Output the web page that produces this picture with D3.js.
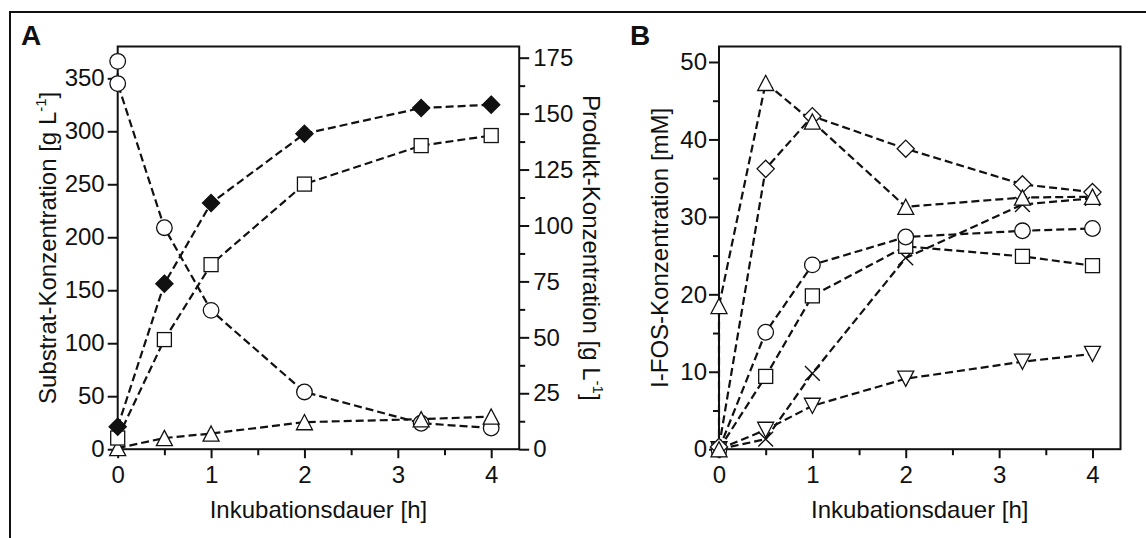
<!DOCTYPE html>
<html>
<head>
<meta charset="utf-8">
<script src="https://cdn.jsdelivr.net/npm/d3@7"></script>
<style>
  html, body { margin: 0; padding: 0; background: #fff; }
  svg { display: block; }
  text { font-family: "Liberation Sans", Arial, sans-serif; fill: #111; }
</style>
</head>
<body>
<svg id="fig" width="1146" height="538"></svg>
<script>
// ---------- Panel A: substrate and products over incubation time ----------
const substrateTimes  = [0, 0, 0.5, 1, 2, 3.25, 4];
const substrateValues = [366, 345, 209, 131, 54, 24.5, 20];          // circles, left axis [g/L]
const productTimes    = [0, 0.5, 1, 2, 3.25, 4];
const productDiamond  = [10, 74, 110, 141, 152.5, 154];              // filled diamonds, right axis [g/L]
const productSquare   = [5, 49, 82.5, 118.5, 135.7, 140.2];          // open squares, right axis [g/L]
const productTriangle = [0.5, 5, 7, 12.1, 13.4, 14.6];               // open triangles, right axis [g/L]

// ---------- Panel B: I-FOS concentration ----------
const fosTimes       = [0, 0.5, 1, 2, 3.25, 4];
const fosTriUpTimes  = [0, 0, 0.5, 1, 2, 3.25, 4];
const fosTriUp       = [0, 18.5, 47.3, 42.3, 31.3, 32.5, 32.6];
const fosDiamond     = [0.3, 36.2, 43, 38.8, 34.2, 33.2];
const fosCircle      = [0, 15.1, 23.8, 27.4, 28.2, 28.5];
const fosSquare      = [0, 9.4, 19.8, 26.2, 24.9, 23.7];
const fosCross       = [0, 1.3, 9.8, 24.7, 31.6, 32.4];
const fosTriDown     = [0, 2.5, 5.6, 9.1, 11.3, 12.3];

// ---------- Tick values ----------
const xTicks       = [0, 1, 2, 3, 4];
const xMinorTicks  = [0.5, 1.5, 2.5, 3.5];
const aLeftTicks   = [0, 50, 100, 150, 200, 250, 300, 350];
const aRightTicks  = [0, 25, 50, 75, 100, 125, 150, 175];
const aRightMinor  = [12.5, 37.5, 62.5, 87.5, 112.5, 137.5, 162.5];
const bTicks       = [0, 10, 20, 30, 40, 50];
const bMinor       = [5, 15, 25, 35, 45];

const svg = d3.select("#fig");
const FS = 24;

// outer frame
svg.append("rect")
  .attr("x", 10).attr("y", 12).attr("width", 1160).attr("height", 560)
  .attr("fill", "none").attr("stroke", "#111").attr("stroke-width", 2);

const plotTop = 46.5, plotBottom = 449.2, pw = 401.5;

function marker(g, type, cx, cy, filled) {
  const sw = 1.3, fill = filled ? "#111" : "#fff";
  let el;
  if (type === "circle") {
    el = g.append("circle").attr("cx", cx).attr("cy", cy).attr("r", 7.8);
  } else if (type === "square") {
    el = g.append("rect").attr("x", cx - 7).attr("y", cy - 7).attr("width", 14).attr("height", 14);
  } else if (type === "diamond") {
    const d = 8.6;
    el = g.append("path").attr("d", `M${cx},${cy - d}L${cx + d},${cy}L${cx},${cy + d}L${cx - d},${cy}Z`);
  } else if (type === "triUp") {
    const w = 8, h = 7.6;
    el = g.append("path").attr("d", `M${cx},${cy - h}L${cx + w},${cy + h}L${cx - w},${cy + h}Z`);
  } else if (type === "triDown") {
    const w = 8, h = 7.6;
    el = g.append("path").attr("d", `M${cx},${cy + h}L${cx + w},${cy - h}L${cx - w},${cy - h}Z`);
  } else if (type === "cross") {
    const h = 7.4;
    g.append("path").attr("d", `M${cx - h},${cy - h}L${cx + h},${cy + h}M${cx - h},${cy + h}L${cx + h},${cy - h}`)
      .attr("stroke", "#111").attr("stroke-width", 1.4).attr("fill", "none");
    return;
  }
  el.attr("fill", fill).attr("stroke", "#111").attr("stroke-width", sw);
}

function series(g, xs, ys, x, y, type, filled) {
  const pts = xs.map((t, i) => [x(t), y(ys[i])]);
  g.append("path")
    .attr("d", d3.line()(pts))
    .attr("fill", "none").attr("stroke", "#111")
    .attr("stroke-width", 2.2).attr("stroke-dasharray", "8,4");
  return () => pts.forEach(p => marker(g, type, p[0], p[1], filled));
}

function styleAxis(sel) {
  sel.select(".domain").remove();
  sel.selectAll("line").attr("stroke", "#111").attr("stroke-width", 2);
  sel.selectAll("text").attr("font-size", FS).attr("fill", "#111")
    .style("font-family", '"Liberation Sans", Arial, sans-serif');
}

function frame(g, x0, h) {
  g.append("rect").attr("x", x0).attr("y", plotTop).attr("width", pw).attr("height", h)
    .attr("fill", "none").attr("stroke", "#111").attr("stroke-width", 2);
}

function xAxis(g, x) {
  g.append("g").attr("transform", `translate(0,${plotBottom})`)
    .call(d3.axisBottom(x).tickValues(xTicks).tickFormat(d3.format("d")).tickSize(9).tickPadding(8))
    .call(styleAxis);
  g.append("g").attr("transform", `translate(0,${plotBottom})`)
    .call(d3.axisBottom(x).tickValues(xMinorTicks).tickFormat("").tickSize(6))
    .call(styleAxis);
}

function superTitle(g, tx, ty, rot, main) {
  const t = g.append("text")
    .attr("transform", `translate(${tx},${ty}) rotate(${rot})`)
    .attr("text-anchor", "middle").attr("font-size", FS);
  t.append("tspan").text(main + " [g L");
  t.append("tspan").attr("font-size", 15).attr("dy", -10).text("-1");
  t.append("tspan").attr("dy", 10).text("]");
}

// ================= Panel A =================
{
  const left = 117.7;
  const g = svg.append("g");
  const x = d3.scaleLinear().domain([0, 4.3]).range([left, left + pw]);
  const yL = d3.scaleLinear().domain([0, 380]).range([plotBottom, plotTop]);
  const yR = d3.scaleLinear().domain([0, 180]).range([plotBottom, plotTop]);

  xAxis(g, x);
  g.append("g").attr("transform", `translate(${left},0)`)
    .call(d3.axisLeft(yL).tickValues(aLeftTicks).tickSize(10).tickPadding(3))
    .call(styleAxis);
  g.append("g").attr("transform", `translate(${left + pw},0)`)
    .call(d3.axisRight(yR).tickValues(aRightTicks).tickSize(10).tickPadding(4))
    .call(styleAxis);
  g.append("g").attr("transform", `translate(${left + pw},0)`)
    .call(d3.axisRight(yR).tickValues(aRightMinor).tickFormat("").tickSize(6))
    .call(styleAxis);
  frame(g, left, plotBottom - plotTop);

  const draws = [
    series(g, substrateTimes, substrateValues, x, yL, "circle", false),
    series(g, productTimes, productTriangle, x, yR, "triUp", false),
    series(g, productTimes, productSquare, x, yR, "square", false),
    series(g, productTimes, productDiamond, x, yR, "diamond", true),
  ];
  draws.forEach(f => f());

  g.append("text").attr("x", (left + left + pw) / 2).attr("y", 518)
    .attr("text-anchor", "middle").attr("font-size", FS).text("Inkubationsdauer [h]");
  superTitle(g, 56, (plotTop + plotBottom) / 2, -90, "Substrat-Konzentration");
  superTitle(g, 583, (plotTop + plotBottom) / 2, 90, "Produkt-Konzentration");
  g.append("text").attr("x", 21).attr("y", 45).attr("font-size", 28)
    .attr("font-weight", "bold").text("A");
}

// ================= Panel B =================
{
  const left = 719;
  const g = svg.append("g");
  const x = d3.scaleLinear().domain([0, 4.3]).range([left, left + pw]);
  const y = d3.scaleLinear().domain([0, 52]).range([plotBottom, plotTop]);

  xAxis(g, x);
  g.append("g").attr("transform", `translate(${left},0)`)
    .call(d3.axisLeft(y).tickValues(bTicks).tickSize(10).tickPadding(2))
    .call(styleAxis);
  g.append("g").attr("transform", `translate(${left},0)`)
    .call(d3.axisLeft(y).tickValues(bMinor).tickFormat("").tickSize(6))
    .call(styleAxis);
  frame(g, left, plotBottom - plotTop);

  const draws = [
    series(g, fosTimes, fosTriDown, x, y, "triDown", false),
    series(g, fosTimes, fosCross, x, y, "cross", false),
    series(g, fosTimes, fosSquare, x, y, "square", false),
    series(g, fosTimes, fosCircle, x, y, "circle", false),
    series(g, fosTimes, fosDiamond, x, y, "diamond", false),
    series(g, fosTriUpTimes, fosTriUp, x, y, "triUp", false),
  ];
  draws.forEach(f => f());

  g.append("text").attr("x", (left + left + pw) / 2).attr("y", 518)
    .attr("text-anchor", "middle").attr("font-size", FS).text("Inkubationsdauer [h]");
  g.append("text")
    .attr("transform", `translate(668,${(plotTop + plotBottom) / 2}) rotate(-90)`)
    .attr("text-anchor", "middle").attr("font-size", FS).text("I-FOS-Konzentration [mM]");
  g.append("text").attr("x", 630).attr("y", 45).attr("font-size", 28)
    .attr("font-weight", "bold").text("B");
}
</script>
</body>
</html>
